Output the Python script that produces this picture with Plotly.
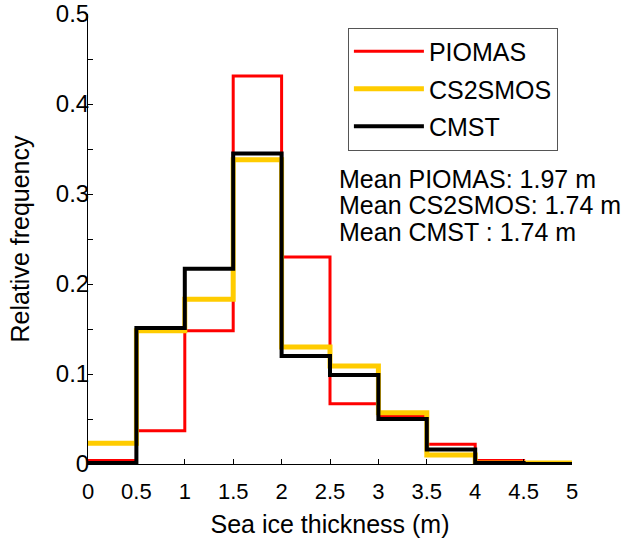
import plotly.graph_objects as go

# Bin edges (m)
bin_edges = [0, 0.5, 1, 1.5, 2, 2.5, 3, 3.5, 4, 4.5, 5]

# Relative frequency per bin
piomas = [0.004, 0.037, 0.148, 0.431, 0.230, 0.067, 0.054, 0.022, 0.004, 0.001]
cs2smos = [0.023, 0.148, 0.183, 0.338, 0.130, 0.109, 0.057, 0.010, 0.001, 0.001]
cmst = [0.001, 0.151, 0.217, 0.345, 0.120, 0.099, 0.050, 0.016, 0.001, 0.000]

series_names = ["PIOMAS", "CS2SMOS", "CMST"]
series_values = [piomas, cs2smos, cmst]
series_colors = ["#FF0000", "#FFCC00", "#000000"]
series_widths = [3, 5, 4]

mean_labels = ["Mean PIOMAS: 1.97 m", "Mean CS2SMOS: 1.74 m", "Mean CMST : 1.74 m"]

x_ticks = [0, 0.5, 1, 1.5, 2, 2.5, 3, 3.5, 4, 4.5, 5]
x_tick_text = ["0", "0.5", "1", "1.5", "2", "2.5", "3", "3.5", "4", "4.5", "5"]
y_ticks = [0, 0.1, 0.2, 0.3, 0.4, 0.5]
y_tick_text = ["0", "0.1", "0.2", "0.3", "0.4", "0.5"]

FONT = "Liberation Sans, Arial, sans-serif"

fig = go.Figure()
for i, (name, vals, col, w) in enumerate(zip(series_names, series_values, series_colors, series_widths)):
    fig.add_trace(go.Scatter(
        x=bin_edges,
        y=vals + [vals[-1]],
        mode="lines",
        line=dict(color=col, width=w, shape="hv"),
        name=name,
        legendgroup=name,
        cliponaxis=False,
    ))

for k, txt in enumerate(mean_labels):
    fig.add_annotation(
        x=0.515, y=0.634 - k * 0.0593, xref="paper", yref="paper",
        text=txt, showarrow=False, xanchor="left", yanchor="middle",
        font=dict(family=FONT, size=25, color="black"),
    )

fig.update_layout(
    width=626, height=543,
    margin=dict(l=88, r=54, t=14, b=79),
    plot_bgcolor="white", paper_bgcolor="white",
    font=dict(family=FONT, color="black"),
    showlegend=True,
    legend=dict(
        x=0.537, y=0.970, xanchor="left", yanchor="top",
        bordercolor="#555555", borderwidth=1, bgcolor="white",
        font=dict(family=FONT, size=25, color="black"),
        tracegroupgap=2, itemwidth=70,
    ),
    xaxis=dict(
        range=[0, 5], tickvals=x_ticks, ticktext=x_tick_text,
        ticks="inside", ticklen=5, tickcolor="black",
        showline=True, linecolor="black", linewidth=1,
        showgrid=False, zeroline=False, automargin=False,
        tickfont=dict(family=FONT, size=22, color="black"),
        ticklabelstandoff=8,
        title=dict(text="Sea ice thickness (m)", font=dict(family=FONT, size=25, color="black"), standoff=12),
    ),
    yaxis=dict(
        range=[0, 0.5], tickvals=y_ticks, ticktext=y_tick_text,
        ticks="inside", ticklen=5, tickcolor="black",
        minor=dict(dtick=0.05, ticks="inside", ticklen=5, tickcolor="black"),
        showline=True, linecolor="black", linewidth=1,
        showgrid=False, zeroline=False, automargin=False,
        tickfont=dict(family=FONT, size=24, color="black"),
        ticklabelstandoff=-7,
        title=dict(text="Relative frequency", font=dict(family=FONT, size=25, color="black"), standoff=19),
    ),
)

fig.write_html("out.html", config={"displayModeBar": False},
               post_script="document.body.style.margin='0px';")
